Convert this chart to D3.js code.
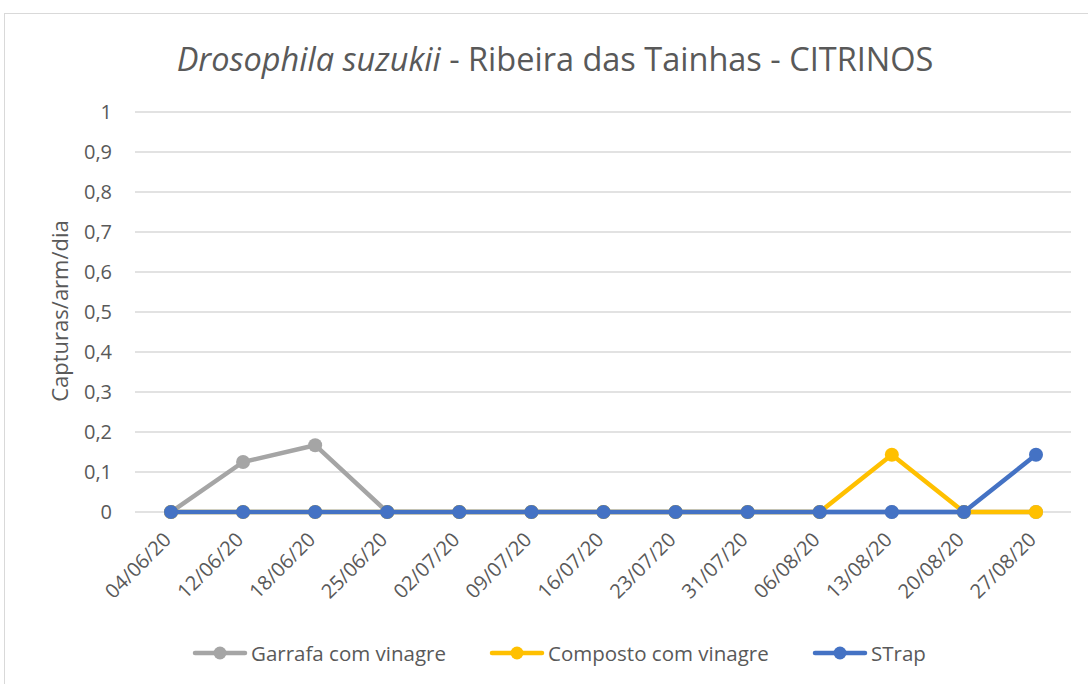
<!DOCTYPE html>
<html><head><meta charset="utf-8">
<script src="https://cdn.jsdelivr.net/npm/d3@7"></script>
<style>body{margin:0;background:#fff}svg{display:block}</style>
</head><body>
<svg id="c" width="1088" height="684"></svg>
<script>
const categories = ["04/06/20","12/06/20","18/06/20","25/06/20","02/07/20","09/07/20","16/07/20","23/07/20","31/07/20","06/08/20","13/08/20","20/08/20","27/08/20"];
const garrafa = [0,0.125,0.167,0,0,0,0,0,0,0,0,0,0];
const composto = [0,0,0,0,0,0,0,0,0,0,0.143,0,0];
const strap = [0,0,0,0,0,0,0,0,0,0,0,0,0.143];
const yTicks = [0,0.1,0.2,0.3,0.4,0.5,0.6,0.7,0.8,0.9,1];
const seriesNames = ["Garrafa com vinagre","Composto com vinagre","STrap"];
const colors = ["#a5a5a5","#ffc000","#4472c4"];

const font = "'Open Sans', sans-serif";
const svg = d3.select("#c");
svg.append("rect").attr("x",4.5).attr("y",13.5).attr("width",1100).attr("height",700)
  .attr("fill","#fff").attr("stroke","#d9d9d9").attr("stroke-width",1);

const x = d3.scalePoint().domain(categories).range([171,1036]);
const y = d3.scaleLinear().domain([0,1]).range([512,112]);

// gridlines
svg.append("g").selectAll("line").data(yTicks).join("line")
  .attr("x1",135).attr("x2",1071).attr("y1",d=>y(d)).attr("y2",d=>y(d))
  .attr("stroke","#d9d9d9").attr("stroke-width",1.3);

// y axis
const yAxis = d3.axisLeft(y).tickValues(yTicks).tickSize(0).tickPadding(0)
  .tickFormat(d=>d3.format(".1~f")(d).replace(".",","));
const ya = svg.append("g").attr("transform","translate(112,0)").call(yAxis);
ya.select(".domain").remove();
ya.selectAll("text").attr("font-family",font).attr("font-size",20).attr("fill","#595959");

// x axis
const xAxis = d3.axisBottom(x).tickSize(0).tickPadding(0);
const xa = svg.append("g").attr("transform","translate(0,512)").call(xAxis);
xa.select(".domain").remove();
xa.selectAll("text").attr("font-family",font).attr("font-size",20).attr("fill","#595959")
  .attr("text-anchor","end").attr("dy","0.35em")
  .attr("transform","translate(-4,24) rotate(-45)");

// y title
svg.append("text").attr("transform","translate(68,311) rotate(-90)")
  .attr("text-anchor","middle").attr("font-family",font).attr("font-size",22).attr("fill","#595959")
  .text("Capturas/arm/dia");

// title
const t = svg.append("text").attr("x",555).attr("y",71).attr("text-anchor","middle")
  .attr("font-family",font).attr("font-size",32.5).attr("fill","#595959");
t.append("tspan").attr("font-style","italic").text("Drosophila suzukii");
t.append("tspan").text(" - Ribeira das Tainhas - CITRINOS");

// series
const allSeries = [garrafa, composto, strap];
const line = d3.line().x((d,i)=>x(categories[i])).y(d=>y(d));
allSeries.forEach((s,k)=>{
  const g = svg.append("g");
  g.append("path").attr("d",line(s)).attr("fill","none").attr("stroke",colors[k])
    .attr("stroke-width",4.5).attr("stroke-linejoin","round");
  g.selectAll("circle").data(s).join("circle")
    .attr("cx",(d,i)=>x(categories[i])).attr("cy",d=>y(d)).attr("r",7).attr("fill",colors[k]);
});

// legend
const legX = [193,490,813];
seriesNames.forEach((n,k)=>{
  const g = svg.append("g").attr("transform",`translate(${legX[k]},653)`);
  g.append("line").attr("x1",2).attr("x2",52).attr("stroke",colors[k]).attr("stroke-width",4.5).attr("stroke-linecap","round");
  g.append("circle").attr("cx",27).attr("r",6.5).attr("fill",colors[k]);
  g.append("text").attr("x",58).attr("y",7.5).attr("font-family",font).attr("font-size",20.5).attr("fill","#595959").text(n);
});
</script>
</body></html>
